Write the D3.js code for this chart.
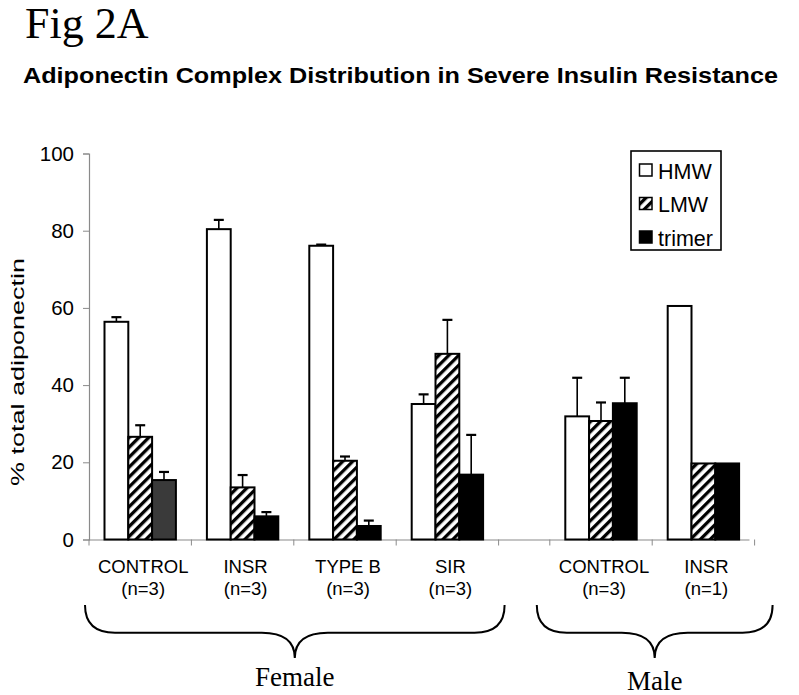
<!DOCTYPE html>
<html>
<head>
<meta charset="utf-8">
<script src="https://cdn.jsdelivr.net/npm/d3@7"></script>
<style>
  html, body { margin: 0; padding: 0; background: #fff; }
  svg { display: block; }
  text { font-family: "Liberation Sans", Arial, sans-serif; fill: #000; }
  .serif { font-family: "Liberation Serif", "Times New Roman", serif; }
</style>
</head>
<body>
<svg id="chart" width="799" height="695"></svg>
<script>
// ---------------- data ----------------
const groups    = ["CONTROL", "INSR", "TYPE B", "SIR", "CONTROL", "INSR"];
const nLabels   = ["(n=3)", "(n=3)", "(n=3)", "(n=3)", "(n=3)", "(n=1)"];
const sex       = ["Female", "Female", "Female", "Female", "Male", "Male"];
const series    = ["HMW", "LMW", "trimer"];
const hmw       = [56.4, 80.4, 76.1, 35.1, 31.9, 60.5];
const hmwErr    = [1.2, 2.4, 0.3, 2.5, 10.0, 0];
const lmw       = [26.6, 13.5, 20.4, 48.1, 30.7, 19.7];
const lmwErr    = [3.0, 3.2, 1.1, 8.8, 4.8, 0];
const trimer    = [15.4, 6.0, 3.5, 16.8, 35.3, 19.7];
const trimerErr = [2.1, 1.1, 1.4, 10.3, 6.6, 0];
const yTicks    = [0, 20, 40, 60, 80, 100];
const sexLabels = ["Female", "Male"];

// ---------------- layout ----------------
const svg = d3.select("#chart");
const defs = svg.append("defs");
const pat = defs.append("pattern")
  .attr("id", "hatch").attr("patternUnits", "userSpaceOnUse")
  .attr("width", 7).attr("height", 7)
  .attr("patternTransform", "rotate(45)");
pat.append("rect").attr("width", 7).attr("height", 7).attr("fill", "#fff");
pat.append("rect").attr("x", 0).attr("width", 3.3).attr("height", 7).attr("fill", "#000");

const y = d3.scaleLinear().domain([0, 100]).range([539.5, 153.5]);
// slot index: female groups consecutive, then a gap of half a slot before male groups
const slotIdx = groups.map((g, i) => i + (sex[i] === "Male" ? 0.5 : 0));
const x = d3.scaleLinear().domain([0, 6.5]).range([89, 754.6]);
const barW = 23.8;

const values = [hmw, lmw, trimer];
const errs = [hmwErr, lmwErr, trimerErr];
const fills = ["#fff", "url(#hatch)", "#000"];

// title texts
svg.append("text").attr("class", "serif").attr("x", 25).attr("y", 38)
  .style("font-size", "44px").text("Fig 2A");
svg.append("text").attr("x", 23).attr("y", 83)
  .style("font-size", "22.5px").style("font-weight", "bold")
  .attr("textLength", 755).attr("lengthAdjust", "spacingAndGlyphs")
  .text("Adiponectin Complex Distribution in Severe Insulin Resistance");

// y axis
const yAxis = svg.append("g").attr("transform", `translate(${x(0)},0)`)
  .call(d3.axisLeft(y).tickValues(yTicks).tickSize(6).tickPadding(9));
yAxis.select(".domain").attr("stroke", "#8a8a8a").attr("stroke-width", 1.2);
yAxis.selectAll(".tick line").attr("stroke", "#8a8a8a");
yAxis.selectAll(".tick text").style("font-size", "20.5px")
  .style("font-family", "Liberation Sans, Arial, sans-serif").attr("fill", "#000");

svg.append("text")
  .attr("transform", `translate(24, 372) rotate(-90)`)
  .attr("text-anchor", "middle")
  .style("font-size", "19px")
  .attr("textLength", 228).attr("lengthAdjust", "spacingAndGlyphs")
  .text("% total adiponectin");

// x axis line and ticks
svg.append("line").attr("x1", x(0)).attr("x2", x(6.45))
  .attr("y1", y(0) + 0.5).attr("y2", y(0) + 0.5)
  .attr("stroke", "#8a8a8a").attr("stroke-width", 1.2);
const tickPos = [0, 1, 2, 3, 4, 4.5, 5.5, 6.5];
svg.selectAll(".xtick").data(tickPos).enter().append("line")
  .attr("x1", d => x(d)).attr("x2", d => x(d))
  .attr("y1", y(0)).attr("y2", y(0) + 6)
  .attr("stroke", "#8a8a8a").attr("stroke-width", 1);

// bars
series.forEach((s, si) => {
  const g = svg.append("g");
  g.selectAll("rect").data(values[si]).enter().append("rect")
    .attr("x", (d, i) => x(slotIdx[i] + 0.5) - 1.5 * barW + si * barW)
    .attr("y", d => y(d))
    .attr("width", barW)
    .attr("height", d => y(0) - y(d))
    .attr("fill", (d, i) => (si === 2 && i === 0) ? "#3a3a3a" : fills[si])
    .attr("stroke", "#000").attr("stroke-width", 2);
  // error bars (upper only)
  const eg = svg.append("g");
  values[si].forEach((v, i) => {
    const e = errs[si][i];
    if (!e) return;
    const cx = x(slotIdx[i] + 0.5) - 1.5 * barW + si * barW + barW / 2;
    eg.append("line").attr("x1", cx).attr("x2", cx)
      .attr("y1", y(v)).attr("y2", y(v + e))
      .attr("stroke", "#000").attr("stroke-width", 1.6);
    eg.append("line").attr("x1", cx - 5).attr("x2", cx + 5)
      .attr("y1", y(v + e)).attr("y2", y(v + e))
      .attr("stroke", "#000").attr("stroke-width", 2.2);
  });
});

// category labels
groups.forEach((gname, i) => {
  const cx = x(slotIdx[i] + 0.5) + 3;
  svg.append("text").attr("x", cx).attr("y", 573).attr("text-anchor", "middle")
    .style("font-size", "18.5px").text(gname);
  svg.append("text").attr("x", cx).attr("y", 595).attr("text-anchor", "middle")
    .style("font-size", "18.5px").text(nLabels[i]);
});

// braces
function brace(x0, x1) {
  const yt = 605, ym = 632.7, yb = 658, xm = (x0 + x1) / 2;
  return `M${x0},${yt} Q${x0},${ym} ${x0 + 30},${ym} L${xm - 33},${ym} Q${xm},${ym} ${xm},${yb}` +
         ` Q${xm},${ym} ${xm + 33},${ym} L${x1 - 30},${ym} Q${x1},${ym} ${x1},${yt}`;
}
const braceSpans = [[x(0) - 4, x(4) + 6], [x(4.5) - 13, x(6.5) + 18]];
braceSpans.forEach((sp, k) => {
  svg.append("path").attr("d", brace(sp[0], sp[1]))
    .attr("fill", "none").attr("stroke", "#000").attr("stroke-width", 2);
  svg.append("text").attr("class", "serif")
    .attr("x", (sp[0] + sp[1]) / 2).attr("y", k === 0 ? 686 : 690)
    .attr("text-anchor", "middle").style("font-size", "27px")
    .text(sexLabels[k]);
});

// legend
const lg = svg.append("g");
lg.append("rect").attr("x", 631).attr("y", 151).attr("width", 90).attr("height", 99)
  .attr("fill", "#fff").attr("stroke", "#000").attr("stroke-width", 1.6);
series.forEach((s, si) => {
  const yy = 164 + si * 33.5;
  lg.append("rect").attr("x", 639.5).attr("y", yy).attr("width", 12.5).attr("height", 12)
    .attr("fill", fills[si]).attr("stroke", "#000").attr("stroke-width", 1.5);
  lg.append("text").attr("x", 658).attr("y", yy + 14.5)
    .style("font-size", "21.5px").text(s);
});
</script>
</body>
</html>
